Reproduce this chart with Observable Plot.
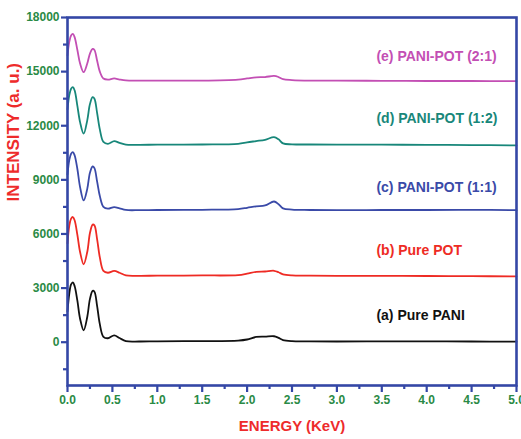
<!DOCTYPE html>
<html><head><meta charset="utf-8">
<script src="https://cdn.jsdelivr.net/npm/d3@7"></script>
<script src="https://cdn.jsdelivr.net/npm/@observablehq/plot@0.6"></script>
<style>body{margin:0;background:#fff}</style>
</head><body><div id="chart"></div>
<script>
const energy = [0, 0.02, 0.04, 0.06, 0.08, 0.11, 0.14, 0.18, 0.22, 0.25, 0.28, 0.30, 0.33, 0.36, 0.40, 0.45, 0.52, 0.58, 0.65, 0.8, 1.0, 1.5, 1.9, 2.0, 2.1, 2.2, 2.3, 2.35, 2.4, 2.5, 2.7, 3.0, 3.5, 4.0, 4.5, 5.0];
const purePANI = [1700, 2700, 3200, 3320, 3100, 2300, 1300, 660, 1400, 2400, 2850, 2800, 2000, 1000, 300, 220, 380, 230, 60, 40, 50, 60, 90, 150, 290, 310, 330, 240, 120, 60, 50, 40, 50, 50, 40, 30];
const purePOT = [5480, 6450, 6850, 6940, 6750, 5950, 5000, 4320, 5000, 6050, 6520, 6480, 5700, 4700, 3950, 3850, 3950, 3850, 3700, 3680, 3690, 3700, 3720, 3800, 3900, 3920, 3960, 3880, 3760, 3700, 3690, 3680, 3680, 3670, 3660, 3650];
const paniPot11 = [9300, 10100, 10450, 10540, 10350, 9600, 8600, 7860, 8500, 9400, 9740, 9650, 8900, 8100, 7500, 7400, 7490, 7420, 7330, 7320, 7330, 7340, 7380, 7450, 7530, 7580, 7800, 7650, 7420, 7350, 7330, 7320, 7330, 7330, 7340, 7320];
const paniPot12 = [12900, 13700, 14050, 14140, 13950, 13100, 12200, 11560, 12300, 13200, 13580, 13500, 12700, 11800, 11100, 11000, 11150, 11050, 10950, 10940, 10950, 10960, 11000, 11080, 11150, 11220, 11370, 11250, 11020, 10970, 10960, 10950, 10950, 10940, 10930, 10910];
const paniPot21 = [15900, 16650, 17000, 17090, 16900, 16200, 15450, 14970, 15450, 16000, 16260, 16200, 15600, 15000, 14620, 14560, 14620, 14560, 14510, 14500, 14500, 14500, 14560, 14620, 14680, 14700, 14760, 14700, 14580, 14530, 14500, 14500, 14490, 14480, 14480, 14470];

const seriesNames = ["(a) Pure PANI", "(b) Pure POT", "(c) PANI-POT (1:1)", "(d) PANI-POT (1:2)", "(e) PANI-POT (2:1)"];
const seriesValues = [purePANI, purePOT, paniPot11, paniPot12, paniPot21];
const labelEnergy = [3.44, 3.44, 3.44, 3.44, 3.44];
const labelIntensity = [1500, 5090, 8580, 12400, 15840];

const xMajorTicks = [0, 0.5, 1.0, 1.5, 2.0, 2.5, 3.0, 3.5, 4.0, 4.5, 5.0];
const xMinorTicks = [0.25, 0.75, 1.25, 1.75, 2.25, 2.75, 3.25, 3.75, 4.25, 4.75];
const yMajorTicks = [0, 3000, 6000, 9000, 12000, 15000, 18000];
const yMinorTicks = [-1500, 1500, 4500, 7500, 10500, 13500, 16500];

const colors = ["#111111", "#ee2b24", "#3a4aa8", "#18877a", "#c34fb4"];
const axisBlue = "#3447a6";
const tickGreen = "#2a8a45";
const titleRed = "#ee2b2b";

const rows = [];
seriesValues.forEach((vals, i) => vals.forEach((v, j) => rows.push({series: seriesNames[i], color: colors[i], energy: energy[j], intensity: v})));
const labels = seriesNames.map((name, i) => ({name, color: colors[i], x: labelEnergy[i], y: labelIntensity[i]}));

const chart = Plot.plot({
  width: 521, height: 439,
  marginLeft: 67, marginRight: 5, marginTop: 17, marginBottom: 54,
  style: {fontFamily: "Liberation Sans, Arial, sans-serif", fontWeight: "bold", background: "#fff"},
  x: {domain: [0, 5]},
  y: {domain: [-2400, 18000]},
  marks: [
    Plot.line(rows, {x: "energy", y: "intensity", z: "series", stroke: "color", strokeWidth: 1.8, curve: "catmull-rom"}),
    Plot.text(labels, {x: "x", y: "y", text: "name", fill: "color", textAnchor: "start", fontSize: 14, fontWeight: "bold"}),
    Plot.axisX(xMajorTicks, {tickSize: 7, tickPadding: 3, stroke: axisBlue, strokeWidth: 2.2, fill: tickGreen, fontSize: 12, fontWeight: "bold", tickFormat: d => d.toFixed(1), label: null}),
    Plot.axisX(xMinorTicks, {tickSize: 4, stroke: axisBlue, strokeWidth: 2.2, tickFormat: () => "", label: null}),
    Plot.axisY(yMajorTicks, {tickSize: 6, tickPadding: 2, stroke: axisBlue, strokeWidth: 2.2, fill: tickGreen, fontSize: 12, fontWeight: "bold", tickFormat: d => String(d), label: null}),
    Plot.axisY(yMinorTicks, {tickSize: 4, stroke: axisBlue, strokeWidth: 2.2, tickFormat: () => "", label: null}),
    Plot.frame({stroke: axisBlue, strokeWidth: 2.6}),
    Plot.text(["INTENSITY (a. u.)"], {frameAnchor: "left", dx: -54, rotate: -90, fill: titleRed, fontSize: 17, fontWeight: "bold"}),
    Plot.text(["ENERGY (KeV)"], {frameAnchor: "bottom", dy: 45, fill: titleRed, fontSize: 15, fontWeight: "bold"})
  ]
});
document.getElementById("chart").appendChild(chart);
</script>
</body></html>
